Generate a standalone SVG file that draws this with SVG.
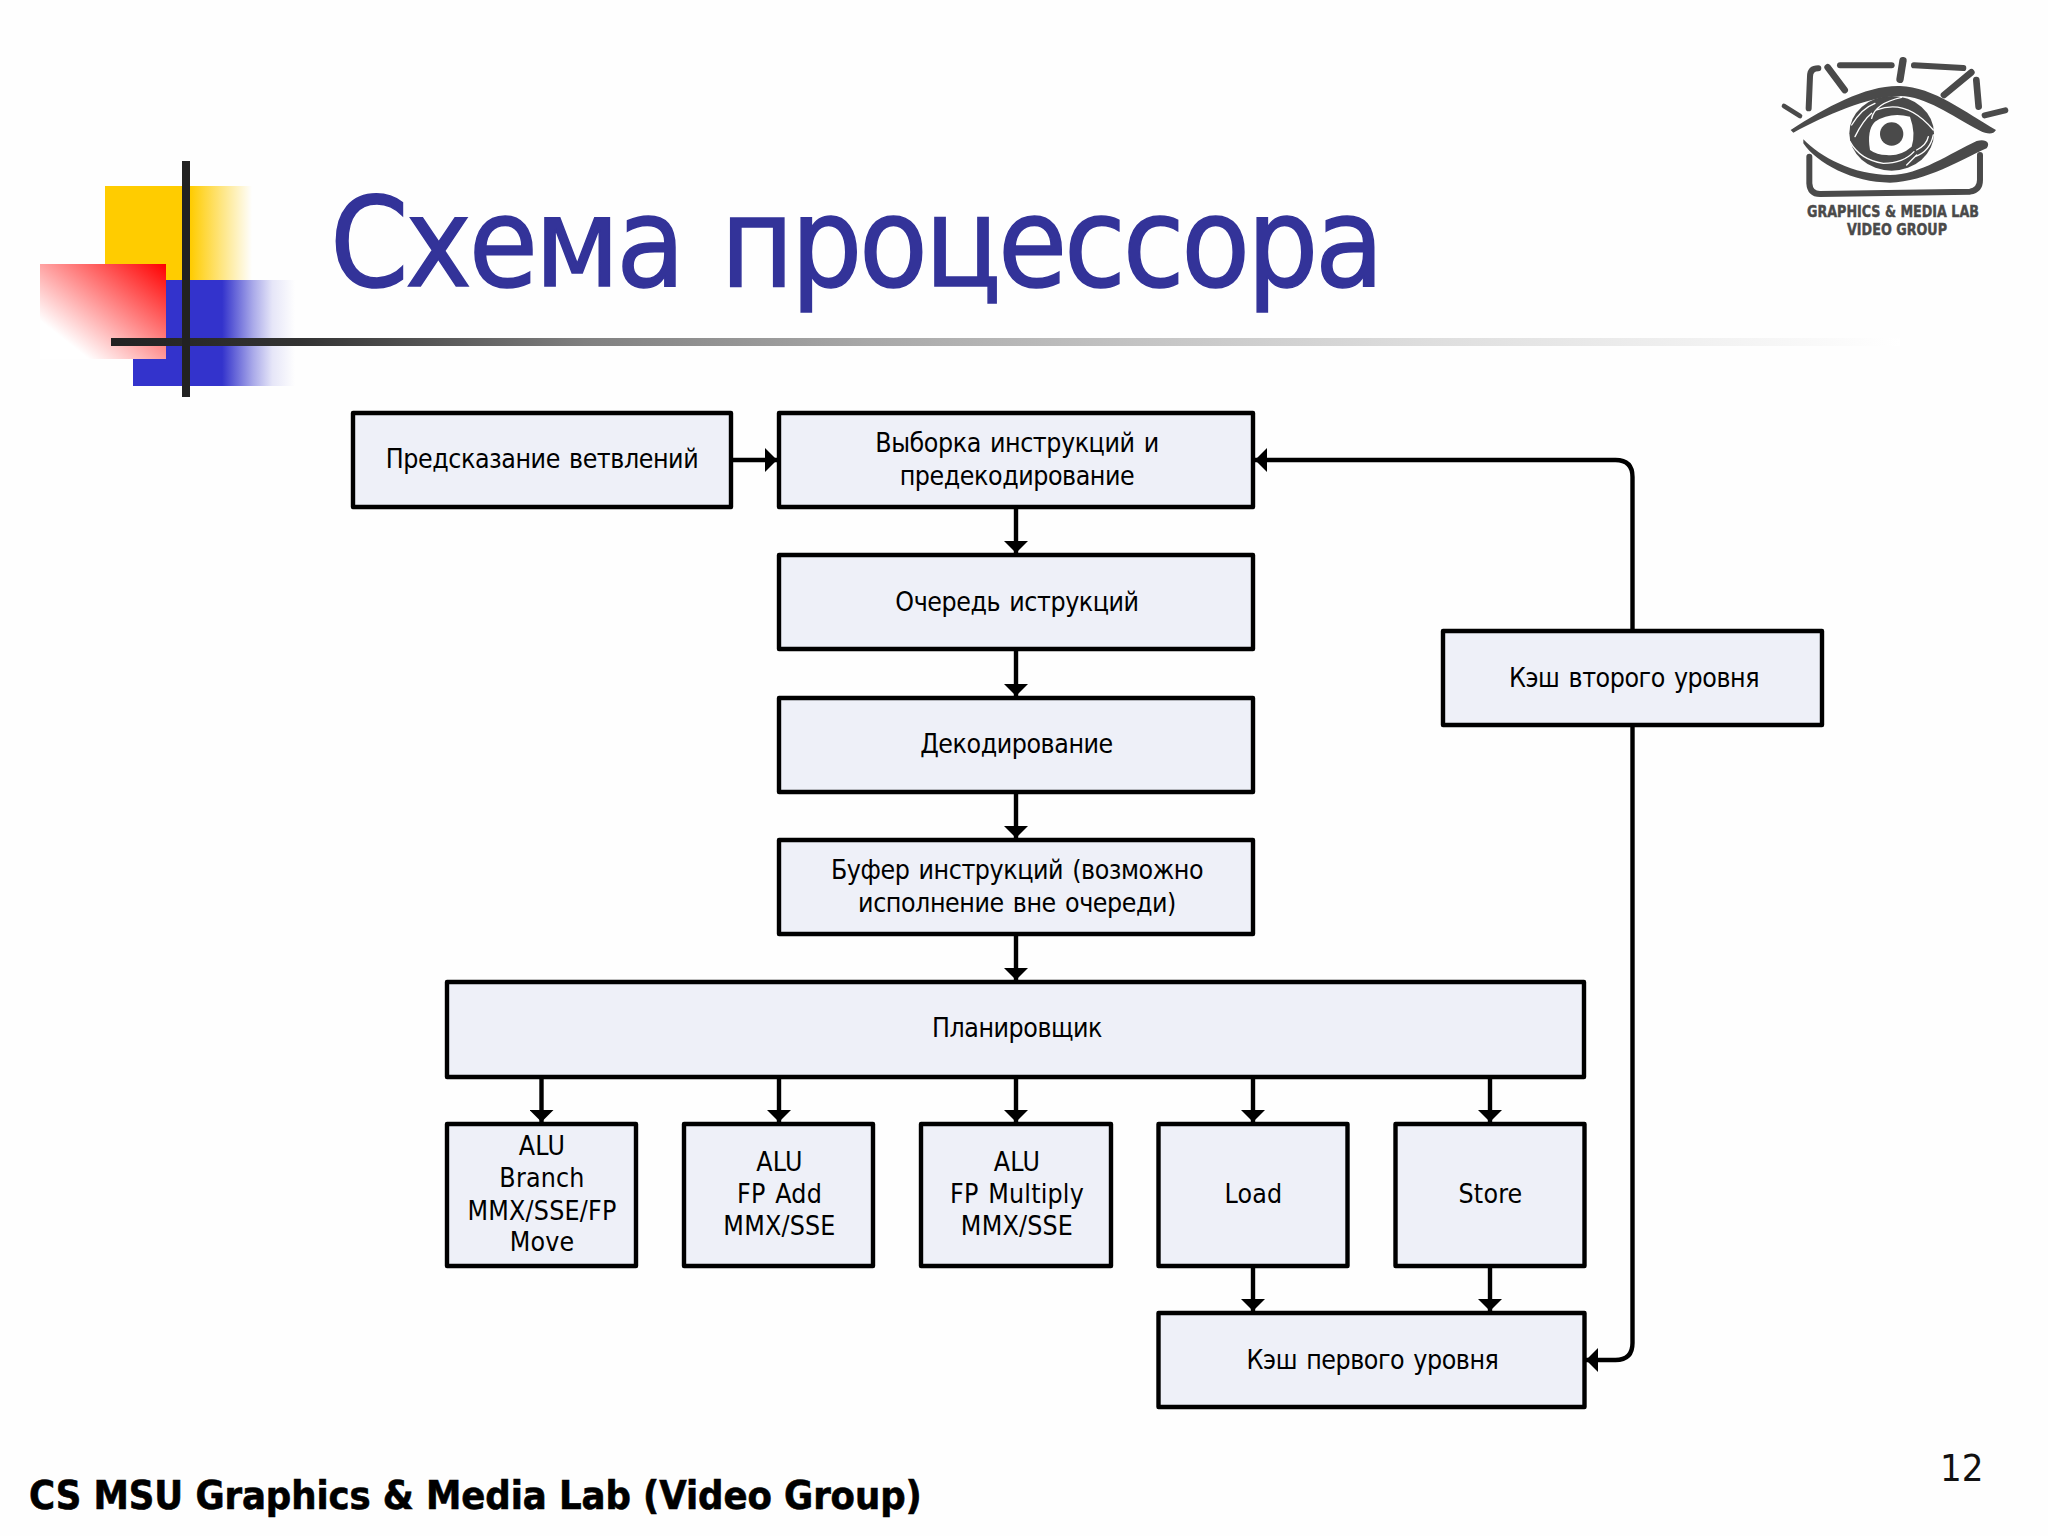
<svg xmlns="http://www.w3.org/2000/svg" width="2048" height="1536" viewBox="0 0 2048 1536">
<style>
.box{fill:#eef0f8;stroke:#000;stroke-width:4.4;stroke-linejoin:round}
.lbl{font-family:"DejaVu Sans","Noto Sans",sans-serif;font-stretch:condensed;font-size:26.5px;letter-spacing:-0.44px;word-spacing:2px;fill:#000;text-anchor:middle}
.lat{letter-spacing:0.2px}
.con{fill:none;stroke:#000;stroke-width:4.4;marker-end:url(#arr)}
.lg{fill:none;stroke:#4a4a4a;stroke-linecap:round}
.lf{fill:#4a4a4a}
.sl{fill:none;stroke:#fff;stroke-width:4;stroke-linecap:round}
</style>
<defs>
<marker id="arr" markerUnits="userSpaceOnUse" markerWidth="12" markerHeight="24" refX="12" refY="12" orient="auto"><path d="M0,0L12,12L0,24Z" fill="#000"/></marker>
<linearGradient id="gy" gradientUnits="userSpaceOnUse" x1="105" y1="0" x2="252" y2="0"><stop offset="0.58" stop-color="#ffcc00"/><stop offset="1" stop-color="#ffcc00" stop-opacity="0"/></linearGradient>
<linearGradient id="gb" gradientUnits="userSpaceOnUse" x1="133" y1="0" x2="295" y2="0"><stop offset="0.55" stop-color="#3333cc"/><stop offset="0.74" stop-color="#3333cc" stop-opacity="0.42"/><stop offset="0.86" stop-color="#3333cc" stop-opacity="0.12"/><stop offset="1" stop-color="#3333cc" stop-opacity="0"/></linearGradient>
<linearGradient id="gr" gradientUnits="userSpaceOnUse" x1="166" y1="264" x2="90" y2="360"><stop offset="0" stop-color="#ff0000"/><stop offset="1" stop-color="#ffffff"/></linearGradient>
<linearGradient id="gl" gradientUnits="userSpaceOnUse" x1="111" y1="0" x2="1900" y2="0"><stop offset="0" stop-color="#222"/><stop offset="0.106" stop-color="#333"/><stop offset="0.265" stop-color="#808080"/><stop offset="0.424" stop-color="#a8a8a8"/><stop offset="0.575" stop-color="#c4c4c4"/><stop offset="0.73" stop-color="#ddd"/><stop offset="1" stop-color="#fff"/></linearGradient>
</defs>
<rect width="2048" height="1536" fill="#fefefe"/>
<g id="decor">
<rect x="105" y="186" width="147" height="94" fill="url(#gy)"/>
<rect x="133" y="280" width="162" height="106" fill="url(#gb)"/>
<rect x="40" y="264" width="126" height="95" fill="url(#gr)"/>
<rect x="111" y="338" width="1789" height="8" fill="url(#gl)"/>
<rect x="182" y="161" width="8" height="236" fill="#222"/>
</g>
<text id="title" x="330" y="286" font-family="'DejaVu Sans','Noto Sans',sans-serif" font-stretch="condensed" font-size="125" letter-spacing="-3.2" word-spacing="6" fill="#333399" stroke="#333399" stroke-width="1.5">Схема процессора</text>
<g id="logo">
<g transform="translate(1760,40) scale(0.3333)">
<path class="lg" stroke-width="18" d="M175,85Q150,85 150,110L146,205"/>
<path class="lg" stroke-width="20" d="M203,82L254,150"/>
<path class="lg" stroke-width="18" d="M240,76L395,76"/>
<path class="lg" stroke-width="22" d="M429,62L420,118"/>
<path class="lg" stroke-width="18" d="M462,76L610,84"/>
<path class="lg" stroke-width="20" d="M634,97L552,165"/>
<path class="lg" stroke-width="20" d="M649,120L656,200"/>
<path class="lg" stroke-width="18" d="M674,226L736,211"/>
<path class="lg" stroke-width="14" d="M72,198L120,228"/>
<ellipse class="lf" cx="395" cy="280" rx="127" ry="112"/>
<path class="sl" d="M275,255Q305,205 345,190M285,290Q310,240 335,220M335,235Q345,190 425,172M350,210Q440,175 520,270M470,330Q500,315 505,290M465,350Q510,335 520,285M270,305Q300,360 370,370Q430,370 462,335M300,365L335,385M440,375L470,345"/>
<path d="M330,330Q320,270 345,245Q390,215 450,230Q468,280 455,320Q420,350 380,345Q350,345 330,330Z" fill="#fff"/>
<circle class="lf" cx="395" cy="282" r="35"/>
<path class="lf" d="M92,270C200,200 320,135 420,138C520,140 620,220 708,270C700,285 680,282 660,272C570,225 500,170 420,168C320,170 200,225 100,278Z"/>
<path class="lf" d="M130,298C180,350 280,405 390,405C480,405 570,340 650,303C680,295 692,310 680,325C600,360 500,425 390,428C280,428 170,370 130,310Z"/>
<path class="lg" stroke-width="18" d="M148,350L148,430Q150,462 180,462L630,455Q660,450 660,420L660,345"/>
</g>
<text x="1893" y="217" font-family="'DejaVu Sans',sans-serif" font-weight="700" font-stretch="condensed" font-size="15" fill="#4a4a4a" stroke="#4a4a4a" stroke-width="0.4" text-anchor="middle" textLength="172" lengthAdjust="spacingAndGlyphs">GRAPHICS &amp; MEDIA LAB</text>
<text x="1897" y="235" font-family="'DejaVu Sans',sans-serif" font-weight="700" font-stretch="condensed" font-size="15" fill="#4a4a4a" stroke="#4a4a4a" stroke-width="0.4" text-anchor="middle" textLength="100" lengthAdjust="spacingAndGlyphs">VIDEO GROUP</text>
</g>
<g id="connectors">
<path class="con" d="M733,460H777"/>
<path class="con" d="M1016,507V553"/>
<path class="con" d="M1016,649V696"/>
<path class="con" d="M1016,792V838"/>
<path class="con" d="M1016,934V980"/>
<path class="con" d="M541.5,1077V1122"/>
<path class="con" d="M779,1077V1122"/>
<path class="con" d="M1016,1077V1122"/>
<path class="con" d="M1253,1077V1122"/>
<path class="con" d="M1490,1077V1122"/>
<path class="con" d="M1253,1266V1311"/>
<path class="con" d="M1490,1266V1311"/>
<path class="con" d="M1632.5,631V477Q1632.5,460 1615.5,460H1255"/>
<path class="con" d="M1632.5,725V1343Q1632.5,1360 1615.5,1360H1586"/>
</g>
<g id="n-branch"><rect class="box" x="353" y="413" width="378" height="94"/><text class="lbl" x="542" y="468">Предсказание ветвлений</text></g>
<g id="n-fetch"><rect class="box" x="779" y="413" width="474" height="94"/><text class="lbl" x="1017" y="452">Выборка инструкций и</text><text class="lbl" x="1017" y="485">предекодирование</text></g>
<g id="n-queue"><rect class="box" x="779" y="555" width="474" height="94"/><text class="lbl" x="1017" y="611">Очередь иструкций</text></g>
<g id="n-decode"><rect class="box" x="779" y="698" width="474" height="94"/><text class="lbl" x="1016.5" y="753">Декодирование</text></g>
<g id="n-buffer"><rect class="box" x="779" y="840" width="474" height="94"/><text class="lbl" x="1017" y="879">Буфер инструкций (возможно</text><text class="lbl" x="1017" y="911.5">исполнение вне очереди)</text></g>
<g id="n-sched"><rect class="box" x="447" y="982" width="1137" height="95"/><text class="lbl" x="1017" y="1037">Планировщик</text></g>
<g id="n-alu1"><rect class="box" x="447" y="1124" width="189" height="142"/><text class="lbl lat" x="542" y="1155">ALU</text><text class="lbl lat" x="542" y="1187">Branch</text><text class="lbl lat" x="542" y="1219.5">MMX/SSE/FP</text><text class="lbl lat" x="542" y="1251">Move</text></g>
<g id="n-alu2"><rect class="box" x="684" y="1124" width="189" height="142"/><text class="lbl lat" x="779.5" y="1171">ALU</text><text class="lbl lat" x="779.5" y="1203">FP Add</text><text class="lbl lat" x="779.5" y="1235">MMX/SSE</text></g>
<g id="n-alu3"><rect class="box" x="921" y="1124" width="190" height="142"/><text class="lbl lat" x="1017" y="1171">ALU</text><text class="lbl lat" x="1017" y="1203">FP Multiply</text><text class="lbl lat" x="1017" y="1235">MMX/SSE</text></g>
<g id="n-load"><rect class="box" x="1158.5" y="1124" width="189" height="142"/><text class="lbl lat" x="1253.5" y="1203">Load</text></g>
<g id="n-store"><rect class="box" x="1395.5" y="1124" width="189" height="142"/><text class="lbl lat" x="1490.5" y="1203">Store</text></g>
<g id="n-l1"><rect class="box" x="1158.5" y="1313" width="426" height="94"/><text class="lbl" x="1372.5" y="1369">Кэш первого уровня</text></g>
<g id="n-l2"><rect class="box" x="1443" y="631" width="379" height="94"/><text class="lbl" x="1634" y="687">Кэш второго уровня</text></g>
<text id="footer" x="29" y="1508.5" font-family="'DejaVu Sans',sans-serif" font-weight="700" font-stretch="condensed" font-size="39.5" letter-spacing="-0.08" fill="#000" stroke="#000" stroke-width="0.6">CS MSU Graphics &amp; Media Lab (Video Group)</text>
<text id="page" x="1940" y="1481" font-family="'DejaVu Sans',sans-serif" font-stretch="condensed" font-size="38" fill="#111">12</text>
</svg>
